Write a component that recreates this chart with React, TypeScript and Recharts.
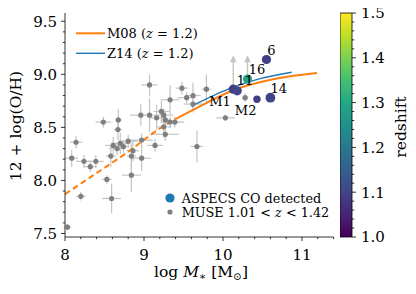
import React from 'react';
import { ComposedChart, Scatter, Line, XAxis, YAxis, ErrorBar, ReferenceArea } from 'recharts';

// ---------------- data ----------------
const museMass = [9.07, 9.48, 9.79, 9.54, 9.62, 9.33, 9.62, 10.28, 10.03, 9.07, 8.96, 9.22, 9.16, 9.25, 9.27, 8.485, 8.675, 9.33, 9.39, 9.25, 9.27, 8.67, 8.14, 8.61, 8.66, 8.70, 8.74, 8.80, 8.86, 8.84, 8.97, 9.14, 8.97, 8.58, 8.085, 8.24, 8.39, 8.32, 9.67, 8.84, 8.53, 8.20, 8.59, 8.03];
const museOH = [8.90, 8.87, 8.86, 8.78, 8.80, 8.76, 8.72, 8.78, 8.59, 8.615, 8.615, 8.65, 8.59, 8.615, 8.57, 8.55, 8.57, 8.55, 8.55, 8.505, 8.435, 8.48, 8.36, 8.33, 8.30, 8.35, 8.32, 8.37, 8.28, 8.23, 8.38, 8.33, 8.21, 8.23, 8.21, 8.18, 8.18, 8.13, 8.32, 8.05, 8.01, 7.85, 7.83, 7.56];
const museMassErr = [0.10, 0.08, 0.06, 0.12, 0.10, 0.12, 0.12, 0.04, 0.12, 0.06, 0.14, 0.10, 0.10, 0.12, 0.06, 0.10, 0.04, 0.12, 0.12, 0.10, 0.17, 0.05, 0.08, 0.10, 0.10, 0.12, 0.08, 0.12, 0.08, 0.06, 0.14, 0.10, 0.12, 0.06, 0.08, 0.10, 0.10, 0.08, 0.08, 0.12, 0.06, 0.06, 0.12, 0.05];
const museOHErr = [0.10, 0.06, 0.14, 0.05, 0.12, 0.14, 0.08, 0.04, 0.03, 0.16, 0.10, 0.10, 0.12, 0.06, 0.08, 0.05, 0.10, 0.05, 0.05, 0.10, 0.06, 0.10, 0.06, 0.08, 0.06, 0.10, 0.06, 0.06, 0.10, 0.12, 0.06, 0.06, 0.12, 0.10, 0.08, 0.06, 0.06, 0.05, 0.15, 0.16, 0.04, 0.04, 0.14, 0.03];

const aspecsIds = ['M1', '11', '6', '16', 'M2', '14'];
const aspecsMass = [10.13, 10.18, 10.55, 10.31, 10.43, 10.60];
const aspecsOH = [8.86, 8.845, 9.14, 8.955, 8.765, 8.78];
const aspecsRedshift = [1.09, 1.10, 1.09, 1.29, 1.09, 1.10];

const limitMass = [10.13, 10.31];
const limitFrom = [8.86, 8.955];
const limitTo = [9.16, 9.16];

const m08Mass = [8.0, 8.36, 8.78, 9.18, 9.4, 9.62, 10.13, 10.68, 11.19];
const m08OH = [7.87, 8.05, 8.26, 8.48, 8.58, 8.665, 8.85, 8.96, 9.013];
const m08DashedBelow = 9.4;

const z14Mass = [9.60, 10.13, 10.47, 10.87];
const z14OH = [8.70, 8.88, 8.96, 9.02];

const xMajorTicks = [8, 9, 10, 11];
const yMajorTicks = [7.5, 8.0, 8.5, 9.0, 9.5];
const cbMajorTicks = [1.0, 1.1, 1.2, 1.3, 1.4, 1.5];

const X_DOMAIN = [8, 11.4];
const Y_DOMAIN = [7.467, 9.578];
const CB_DOMAIN = [1.0, 1.5];

// ---------------- helpers ----------------
const range = (a: number, b: number, s: number) => {
  const out: number[] = [];
  const n = Math.round((b - a) / s);
  for (let i = 0; i <= n; i++) out.push(Math.round((a + i * s) * 1000) / 1000);
  return out;
};
const xAllTicks = range(8, 11.4, 0.2);
const yAllTicks = range(7.5, 9.5, 0.1);
const cbAllTicks = range(1.0, 1.5, 0.02);
const isIn = (v: number, arr: number[]) => arr.some((a) => Math.abs(a - v) < 1e-6);

const VIRIDIS = ['#440154', '#482475', '#414487', '#355f8d', '#2a788e', '#21918c', '#22a884', '#44bf70', '#7ad151', '#bddf26', '#fde725'];
const hex = (h: string) => [1, 3, 5].map((i) => parseInt(h.slice(i, i + 2), 16));
const viridis = (t: number) => {
  const c = Math.max(0, Math.min(1, t)) * 10;
  const i = Math.min(9, Math.floor(c));
  const f = c - i;
  const a = hex(VIRIDIS[i]);
  const b = hex(VIRIDIS[i + 1]);
  const m = a.map((v, k) => Math.round(v + (b[k] - v) * f));
  return `rgb(${m[0]},${m[1]},${m[2]})`;
};

const FONT = '"DejaVu Serif", "Liberation Serif", serif';
const INK = '#000';
const GRAY = '#7f7f7f';
const ERR = '#c4c4c4';
const ORANGE = '#ff7f0e';
const BLUE = '#1f77b4';
const TICK_FS = 15;

const museData = museMass.map((x, i) => ({ x, y: museOH[i], xe: museMassErr[i], ye: museOHErr[i] }));
const aspecsData = aspecsMass.map((x, i) => ({ x, y: aspecsOH[i], id: aspecsIds[i], z: aspecsRedshift[i] }));
const limitData = limitMass.map((x, i) => ({ x, y: limitTo[i], err: [limitTo[i] - limitFrom[i], 0] }));
const m08Dashed = m08Mass.map((x, i) => ({ x, y: m08OH[i] })).filter((d) => d.x <= m08DashedBelow);
const m08Solid = m08Mass.map((x, i) => ({ x, y: m08OH[i] })).filter((d) => d.x >= m08DashedBelow);
const z14Data = z14Mass.map((x, i) => ({ x, y: z14OH[i] }));

const LABEL_OFFSET: Record<string, [number, number]> = {
  '6': [5, -9.5], '16': [9.5, -9.7], '11': [7.7, -10.7], M1: [-13.3, 11.7], M2: [-11.3, 10.7], '14': [8.3, -9],
};
const ASPECS_R: Record<string, number> = { '6': 4.6, '16': 4.6, '11': 4.6, M1: 4.6, M2: 3.7, '14': 4.9 };

// ---------------- tick renderers ----------------
const BottomTick = (p: any) => {
  const v = p.payload.value;
  const major = isIn(v, xMajorTicks);
  return (
    <g>
      <line x1={p.x} x2={p.x} y1={p.y} y2={p.y + (major ? 4 : 2.2)} stroke={INK} strokeWidth={0.8} />
      {major && (
        <text x={p.x} y={p.y + 23} textAnchor="middle" fontFamily={FONT} fontSize={TICK_FS} fill={INK}>{String(v)}</text>
      )}
    </g>
  );
};
const TopTick = (p: any) => {
  const major = isIn(p.payload.value, xMajorTicks);
  return <line x1={p.x} x2={p.x} y1={p.y} y2={p.y - (major ? 4 : 2.2)} stroke={INK} strokeWidth={0.8} />;
};
const LeftTick = (p: any) => {
  const v = p.payload.value;
  const major = isIn(v, yMajorTicks);
  return (
    <g>
      <line x1={p.x - (major ? 4 : 2.2)} x2={p.x} y1={p.y} y2={p.y} stroke={INK} strokeWidth={0.8} />
      {major && (
        <text x={p.x - 8} y={p.y + 5.4} textAnchor="end" fontFamily={FONT} fontSize={TICK_FS} fill={INK}>{v.toFixed(1)}</text>
      )}
    </g>
  );
};
const RightTick = (p: any) => {
  const major = isIn(p.payload.value, yMajorTicks);
  return <line x1={p.x} x2={p.x + (major ? 4 : 2.2)} y1={p.y} y2={p.y} stroke={INK} strokeWidth={0.8} />;
};
const CbTick = (p: any) => {
  const v = p.payload.value;
  const major = isIn(v, cbMajorTicks);
  return (
    <g>
      <line x1={p.x} x2={p.x + (major ? 4 : 2.2)} y1={p.y} y2={p.y} stroke={INK} strokeWidth={0.8} />
      {major && (
        <text x={p.x + 9} y={p.y + 5.4} textAnchor="start" fontFamily={FONT} fontSize={TICK_FS} fill={INK}>{v.toFixed(1)}</text>
      )}
    </g>
  );
};

// ---------------- shapes ----------------
const GrayDot = (p: any) => <circle cx={p.cx} cy={p.cy} r={2.6} fill={GRAY} />;
const ArrowHead = (p: any) => (
  <polygon points={`${p.cx},${p.cy - 2} ${p.cx - 3.3},${p.cy + 5} ${p.cx + 3.3},${p.cy + 5}`} fill={ERR} />
);
const AspecsDot = (p: any) => {
  const d = p.payload;
  const t = (d.z - CB_DOMAIN[0]) / (CB_DOMAIN[1] - CB_DOMAIN[0]);
  return <circle cx={p.cx} cy={p.cy} r={ASPECS_R[d.id]} fill={viridis(t)} />;
};
const AspecsLabel = (p: any) => {
  const d = p.payload;
  const off = LABEL_OFFSET[d.id];
  return (
    <text x={p.cx + off[0]} y={p.cy + off[1] + 4.7} textAnchor="middle" fontFamily={FONT} fontSize={13} fill={INK}>{d.id}</text>
  );
};

export default function App() {
  return (
    <div style={{ position: 'relative', width: 408, height: 286 }}>
      <svg width={0} height={0} style={{ position: 'absolute' }}>
        <defs>
          <linearGradient id="viridisCb" x1="0" y1="1" x2="0" y2="0">
            {VIRIDIS.map((c, i) => (
              <stop key={i} offset={i / 10} stopColor={c} />
            ))}
          </linearGradient>
        </defs>
      </svg>

      <div style={{ position: 'absolute', left: 0, top: 0 }}>
        <ComposedChart width={408} height={286} margin={{ top: 5, right: 82.4, bottom: 0, left: 0 }}>
          <XAxis xAxisId={0} dataKey="x" type="number" domain={X_DOMAIN} allowDataOverflow ticks={xAllTicks} interval={0}
            height={57} tickSize={0} tickMargin={0} tickLine={false} tick={<BottomTick />} axisLine={{ stroke: INK, strokeWidth: 0.8 }} />
          <XAxis xAxisId="top" orientation="top" dataKey="x" type="number" domain={X_DOMAIN} allowDataOverflow ticks={xAllTicks} interval={0}
            height={0} tickSize={0} tickMargin={0} tickLine={false} tick={<TopTick />} axisLine={{ stroke: INK, strokeWidth: 0.8 }} />
          <YAxis yAxisId={0} type="number" domain={Y_DOMAIN} allowDataOverflow ticks={yAllTicks} interval={0}
            width={57} tickSize={0} tickMargin={0} tickLine={false} tick={<LeftTick />} axisLine={{ stroke: INK, strokeWidth: 0.8 }} />
          <YAxis yAxisId="right" orientation="right" type="number" domain={Y_DOMAIN} allowDataOverflow ticks={yAllTicks} interval={0}
            width={0} tickSize={0} tickMargin={0} tickLine={false} tick={<RightTick />} axisLine={{ stroke: INK, strokeWidth: 0.8 }} />

          <Scatter data={museData} dataKey="y" shape={<GrayDot />} isAnimationActive={false}>
            <ErrorBar dataKey="xe" direction="x" width={0} stroke={ERR} strokeWidth={1.2} isAnimationActive={false} />
            <ErrorBar dataKey="ye" direction="y" width={0} stroke={ERR} strokeWidth={1.2} isAnimationActive={false} />
          </Scatter>
          <Scatter data={limitData} dataKey="y" shape={<ArrowHead />} isAnimationActive={false}>
            <ErrorBar dataKey="err" direction="y" width={0} stroke={ERR} strokeWidth={1.4} isAnimationActive={false} />
          </Scatter>
          <Line data={m08Dashed} dataKey="y" type="monotone" dot={false} activeDot={false} stroke={ORANGE} strokeWidth={2}
            strokeDasharray="6 3.5" isAnimationActive={false} />
          <Line data={m08Solid} dataKey="y" type="monotone" dot={false} activeDot={false} stroke={ORANGE} strokeWidth={2}
            isAnimationActive={false} />
          <Line data={z14Data} dataKey="y" type="monotone" dot={false} activeDot={false} stroke={BLUE} strokeWidth={1.4}
            isAnimationActive={false} />
          <Scatter data={aspecsData} dataKey="y" shape={<AspecsDot />} isAnimationActive={false} />
          <Scatter data={aspecsData} dataKey="y" shape={<AspecsLabel />} isAnimationActive={false} />
        </ComposedChart>
      </div>

      <div style={{ position: 'absolute', left: 332, top: -8 }}>
        <ComposedChart width={76} height={294} margin={{ top: 13, right: 0, bottom: 57, left: 0 }} data={[{ x: 0 }, { x: 1 }]}>
          <XAxis dataKey="x" type="number" domain={[0, 1]} hide />
          <YAxis orientation="right" type="number" domain={CB_DOMAIN} allowDataOverflow ticks={cbAllTicks} interval={0}
            width={64} tickSize={0} tickMargin={0} tickLine={false} tick={<CbTick />} axisLine={false} />
          <ReferenceArea x1={0} x2={1} y1={CB_DOMAIN[0]} y2={CB_DOMAIN[1]} fill="url(#viridisCb)" fillOpacity={1}
            stroke={INK} strokeWidth={0.8} />
        </ComposedChart>
      </div>

      <svg width={408} height={286} style={{ position: 'absolute', left: 0, top: 0, pointerEvents: 'none' }}>
        <g fontFamily={FONT} fill={INK}>
          {/* top-left legend */}
          <line x1={68} x2={97} y1={25.3} y2={25.3} stroke={ORANGE} strokeWidth={2} />
          <text x={99} y={30} fontSize={13}>M08 (<tspan fontStyle="italic">z</tspan> = 1.2)</text>
          <line x1={68} x2={97} y1={45.3} y2={45.3} stroke={BLUE} strokeWidth={1.4} />
          <text x={99} y={50} fontSize={13}>Z14 (<tspan fontStyle="italic">z</tspan> = 1.2)</text>

          {/* bottom legend */}
          <circle cx={162} cy={190} r={4.6} fill={BLUE} />
          <text x={173.7} y={194.6} fontSize={12.8}>ASPECS CO detected</text>
          <circle cx={162} cy={204} r={2.6} fill={GRAY} />
          <text x={173.7} y={208.8} fontSize={12.8}>MUSE 1.01 &lt; <tspan fontStyle="italic">z</tspan> &lt; 1.42</text>

          {/* axis labels */}
          <text x={193} y={269} textAnchor="middle" fontSize={15.5}>
            log <tspan fontStyle="italic">M</tspan><tspan fontSize={10.5} dy={3}>∗</tspan><tspan dy={-3}> [M</tspan><tspan fontSize={10.5} dy={3}>⊙</tspan><tspan dy={-3}>]</tspan>
          </text>
          <text transform="translate(12.5,118) rotate(-90)" textAnchor="middle" fontSize={15.5}>12 + log(O/H)</text>
          <text transform="translate(397.5,119) rotate(-90)" textAnchor="middle" fontSize={15.5}>redshift</text>
        </g>
      </svg>
    </div>
  );
}
